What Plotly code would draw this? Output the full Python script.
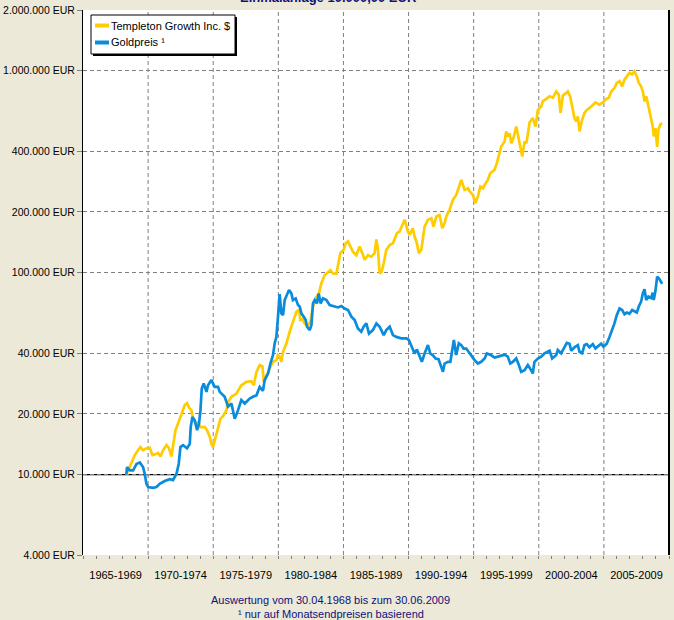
import plotly.graph_objects as go

# ---------------- data ----------------
TEMPLETON_YEARS = [
    1968.33, 1968.72, 1968.98, 1969.23, 1969.41, 1969.61, 1969.87, 1970.13, 1970.33, 1970.51,
    1970.76, 1970.95, 1971.15, 1971.41, 1971.61, 1971.79, 1971.91, 1972.10, 1972.30, 1972.48,
    1972.68, 1972.81, 1972.99, 1973.14, 1973.33, 1973.45, 1973.66, 1973.83, 1974.02, 1974.35,
    1974.52, 1974.73, 1974.86, 1974.98, 1975.19, 1975.37, 1975.55, 1975.75, 1976.01, 1976.14,
    1976.40, 1976.78, 1977.16, 1977.55, 1977.93, 1978.11, 1978.32, 1978.57, 1978.78, 1978.88,
    1979.08, 1979.28, 1979.47, 1979.59, 1979.85, 1979.97, 1980.10, 1980.23, 1980.36, 1980.62,
    1980.87, 1981.12, 1981.39, 1981.59, 1981.69, 1981.85, 1982.02, 1982.28, 1982.46, 1982.66,
    1982.92, 1983.12, 1983.30, 1983.56, 1983.81, 1984.00, 1984.19, 1984.46, 1984.61, 1984.76,
    1985.02, 1985.17, 1985.35, 1985.53, 1985.73, 1985.99, 1986.24, 1986.45, 1986.63, 1986.88,
    1987.14, 1987.39, 1987.53, 1987.65, 1987.78, 1987.93, 1988.09, 1988.29, 1988.55, 1988.80,
    1989.01, 1989.11, 1989.31, 1989.57, 1989.70, 1989.95, 1990.08, 1990.33, 1990.46, 1990.64,
    1990.79, 1990.98, 1991.10, 1991.23, 1991.49, 1991.75, 1991.92, 1992.13, 1992.38, 1992.59,
    1992.77, 1992.90, 1993.15, 1993.40, 1993.66, 1993.92, 1994.05, 1994.30, 1994.56, 1994.69,
    1994.94, 1995.12, 1995.32, 1995.51, 1995.71, 1995.91, 1996.09, 1996.27, 1996.60, 1996.78,
    1996.99, 1997.12, 1997.37, 1997.50, 1997.62, 1997.76, 1997.89, 1998.06, 1998.27, 1998.39,
    1998.58, 1998.73, 1998.91, 1999.04, 1999.16, 1999.29, 1999.54, 1999.75, 1999.93, 2000.19,
    2000.31, 2000.57, 2000.83, 2001.08, 2001.34, 2001.54, 2001.67, 2001.85, 2002.05, 2002.23,
    2002.41, 2002.57, 2002.74, 2002.87, 2003.00, 2003.13, 2003.33, 2003.51, 2003.69, 2003.89,
    2004.15, 2004.35, 2004.66, 2004.92, 2005.18, 2005.38, 2005.56, 2005.81, 2005.99, 2006.20,
    2006.40, 2006.58, 2006.76, 2006.96, 2007.17, 2007.35, 2007.53, 2007.68, 2007.86, 2007.99,
    2008.12, 2008.25, 2008.37, 2008.50, 2008.63, 2008.75, 2008.83, 2008.96, 2009.09, 2009.19,
    2009.32, 2009.47,
]
TEMPLETON_EUR = [
    10000, 11500, 12500, 13200, 13700, 13200, 13500, 13600, 12500, 12600,
    12800, 12300, 13200, 14000, 13500, 12300, 13700, 16600, 17900, 19300,
    20800, 22100, 22600, 21500, 20800, 18900, 17900, 18200, 17200, 17200,
    16600, 15400, 14200, 13700, 15400, 17200, 18900, 19500, 20800, 22900,
    24300, 25200, 27700, 28800, 29000, 27700, 32300, 34900, 34400, 28800,
    30500, 32900, 34900, 36200, 36900, 39100, 38400, 36200, 40600, 44700,
    51000, 57100, 64200, 65400, 58300, 59000, 56100, 54900, 57100, 68000,
    76000, 79000, 88600, 97400, 101000, 103000, 99100, 99000, 111000, 125000,
    130000, 140000, 143000, 135000, 127000, 122000, 135000, 125000, 116000, 122000,
    120000, 125000, 146000, 130000, 99000, 101000, 111000, 130000, 137000, 140000,
    151000, 157000, 160000, 176000, 183000, 160000, 154000, 166000, 151000, 140000,
    125000, 130000, 151000, 169000, 183000, 186000, 169000, 190000, 193000, 166000,
    176000, 190000, 205000, 229000, 243000, 277000, 288000, 257000, 262000, 253000,
    243000, 221000, 238000, 267000, 262000, 277000, 288000, 311000, 323000, 349000,
    391000, 422000, 447000, 501000, 473000, 490000, 438000, 466000, 530000, 480000,
    422000, 376000, 447000, 438000, 483000, 555000, 583000, 530000, 640000, 666000,
    705000, 725000, 747000, 735000, 790000, 760000, 618000, 752000, 775000, 790000,
    747000, 653000, 583000, 562000, 594000, 501000, 572000, 618000, 640000, 653000,
    679000, 697000, 679000, 697000, 725000, 735000, 790000, 821000, 871000, 888000,
    838000, 903000, 938000, 975000, 960000, 993000, 938000, 871000, 838000, 790000,
    705000, 747000, 692000, 629000, 594000, 530000, 473000, 520000, 420000, 511000,
    540000, 551000,
]

GOLD_YEARS = [
    1968.33, 1968.38, 1968.59, 1968.85, 1969.11, 1969.36, 1969.61, 1969.74, 1969.87, 1970.00,
    1970.38, 1970.64, 1970.89, 1971.28, 1971.66, 1971.91, 1972.18, 1972.35, 1972.48, 1972.68,
    1972.99, 1973.20, 1973.27, 1973.40, 1973.58, 1973.76, 1973.91, 1974.02, 1974.12, 1974.27,
    1974.48, 1974.60, 1974.86, 1975.11, 1975.37, 1975.50, 1975.88, 1976.14, 1976.40, 1976.65,
    1976.90, 1977.16, 1977.42, 1977.80, 1978.05, 1978.32, 1978.57, 1978.82, 1978.95, 1979.21,
    1979.39, 1979.59, 1979.72, 1979.85, 1979.97, 1980.05, 1980.10, 1980.23, 1980.36, 1980.49,
    1980.66, 1980.82, 1981.00, 1981.12, 1981.33, 1981.51, 1981.64, 1981.77, 1981.95, 1982.10,
    1982.20, 1982.41, 1982.54, 1982.66, 1982.79, 1982.97, 1983.10, 1983.25, 1983.43, 1983.69,
    1983.94, 1984.32, 1984.58, 1984.84, 1985.09, 1985.35, 1985.61, 1985.86, 1986.11, 1986.37,
    1986.55, 1986.76, 1986.96, 1987.26, 1987.53, 1987.78, 1988.09, 1988.29, 1988.55, 1988.80,
    1989.06, 1989.44, 1989.83, 1990.03, 1990.21, 1990.33, 1990.46, 1990.64, 1990.85, 1991.02,
    1991.23, 1991.49, 1991.67, 1991.87, 1992.08, 1992.30, 1992.51, 1992.64, 1992.77, 1993.02,
    1993.21, 1993.36, 1993.48, 1993.66, 1993.86, 1994.05, 1994.22, 1994.43, 1994.69, 1994.89,
    1995.07, 1995.32, 1995.58, 1995.84, 1996.01, 1996.35, 1996.60, 1996.86, 1997.12, 1997.37,
    1997.62, 1997.81, 1998.01, 1998.27, 1998.47, 1998.65, 1998.91, 1999.16, 1999.34, 1999.54,
    1999.67, 1999.93, 2000.19, 2000.44, 2000.83, 2001.03, 2001.34, 2001.46, 2001.72, 2001.98,
    2002.15, 2002.36, 2002.49, 2002.74, 2003.00, 2003.13, 2003.33, 2003.51, 2003.69, 2003.89,
    2004.15, 2004.35, 2004.53, 2004.79, 2004.97, 2005.22, 2005.43, 2005.64, 2005.81, 2005.99,
    2006.20, 2006.40, 2006.58, 2006.76, 2006.96, 2007.17, 2007.35, 2007.53, 2007.68, 2007.86,
    2007.99, 2008.12, 2008.25, 2008.42, 2008.63, 2008.75, 2008.83, 2008.96, 2009.09, 2009.27,
    2009.47,
]
GOLD_EUR = [
    10000, 10900, 10500, 10500, 11300, 11500, 10900, 10100, 9000, 8680,
    8600, 8680, 9000, 9300, 9500, 9400, 10100, 11300, 13700, 14000,
    13500, 14200, 17200, 19300, 18600, 16600, 17900, 20800, 26700, 28300,
    25700, 27700, 29400, 27200, 27200, 25700, 24300, 21700, 22500, 18900,
    20800, 23400, 22500, 23800, 24300, 24700, 27200, 26000, 29400, 31700,
    35500, 39100, 44700, 48100, 60000, 77500, 78400, 62900, 61600, 73200,
    77500, 82100, 79000, 73200, 74600, 69200, 68000, 62900, 60600, 58300,
    54000, 52000, 54900, 70500, 73200, 70500, 79000, 70500, 74600, 73200,
    69200, 68400, 67300, 68400, 66500, 65400, 60600, 58300, 53000, 51000,
    54000, 56100, 50000, 52000, 56100, 54000, 49100, 52000, 54000, 49100,
    48100, 47300, 47300, 46400, 43800, 41400, 39800, 41700, 38400, 36200,
    39800, 43800, 39800, 39000, 37600, 37300, 34200, 32300, 35500, 36200,
    36200, 40600, 46400, 39100, 44700, 43800, 42100, 42100, 39800, 38400,
    36900, 35500, 36200, 37600, 39800, 39000, 38000, 38400, 39000, 39300,
    38400, 35500, 36200, 37600, 34900, 32300, 32900, 34900, 33500, 31700,
    36200, 37600, 38400, 39900, 41100, 37600, 39100, 41400, 39900, 43000,
    44900, 44500, 41100, 42700, 43800, 40600, 39900, 43800, 44300, 42700,
    44300, 42200, 43300, 44500, 43000, 44500, 48100, 52000, 56100, 61600,
    66500, 65400, 62300, 63500, 62600, 65400, 64500, 63500, 68000, 71900,
    79000, 82900, 73200, 76300, 75000, 79700, 73200, 81300, 95500, 93000,
    88100,
]

SERIES_NAMES = ["Templeton Growth Inc. $", "Goldpreis \u00b9"]
SERIES_COLORS = ["#FFCC00", "#0A8CDC"]

Y_TICKS = [4000, 10000, 20000, 40000, 100000, 200000, 400000, 1000000, 2000000]
Y_LABELS = ["4.000 EUR", "10.000 EUR", "20.000 EUR", "40.000 EUR", "100.000 EUR",
            "200.000 EUR", "400.000 EUR", "1.000.000 EUR", "2.000.000 EUR"]
PERIOD_STARTS = [1965, 1970, 1975, 1980, 1985, 1990, 1995, 2000, 2005]
PERIOD_LABELS = ["1965-1969", "1970-1974", "1975-1979", "1980-1984", "1985-1989",
                 "1990-1994", "1995-1999", "2000-2004", "2005-2009"]
X_RANGE = [1965, 2010]
BASE_LINE = 10000

TITLE = "Einmalanlage 10.000,00 EUR"
FOOT1 = "Auswertung vom 30.04.1968 bis zum 30.06.2009"
FOOT2 = "\u00b9 nur auf Monatsendpreisen basierend"

# ---------------- figure ----------------
FONT = "Liberation Sans, Arial, sans-serif"
NAVY = "#10107A"
GRID = "#808080"
DASH = "4px,3px"

W, H = 674, 620
ML, MR, MT, MB = 83, 5, 10, 65
PW, PH = W - ML - MR, H - MT - MB


def px_x(p):
    return (p - ML) / PW


def px_y(p):
    return 1 - (p - MT) / PH


fig = go.Figure()
for xs, ys, name, col in [(TEMPLETON_YEARS, TEMPLETON_EUR, SERIES_NAMES[0], SERIES_COLORS[0]),
                          (GOLD_YEARS, GOLD_EUR, SERIES_NAMES[1], SERIES_COLORS[1])]:
    fig.add_trace(go.Scatter(x=xs, y=ys, mode="lines", name=name,
                             line=dict(color=col, width=2.7), showlegend=False))

shapes = []
# vertical dashed grid at period boundaries
for yr in PERIOD_STARTS[1:]:
    shapes.append(dict(type="line", xref="x", yref="paper", x0=yr, x1=yr, y0=0, y1=1,
                       line=dict(color=GRID, width=1, dash=DASH), layer="between"))
# base line at 10.000 EUR
shapes.append(dict(type="line", xref="paper", yref="y", x0=0, x1=1, y0=BASE_LINE, y1=BASE_LINE,
                   line=dict(color="black", width=1.3), layer="between"))
# right border
shapes.append(dict(type="line", xref="paper", yref="paper", x0=1, x1=1, y0=0, y1=1,
                   line=dict(color="black", width=2)))
# legend box with shadow
lx0, lx1, ly0, ly1 = 91, 235, 15, 54
shapes.append(dict(type="rect", xref="paper", yref="paper",
                   x0=px_x(lx0 + 2), x1=px_x(lx1 + 2), y0=px_y(ly1 + 2), y1=px_y(ly0 + 2),
                   fillcolor="black", line=dict(width=0)))
shapes.append(dict(type="rect", xref="paper", yref="paper",
                   x0=px_x(lx0), x1=px_x(lx1), y0=px_y(ly1), y1=px_y(ly0),
                   fillcolor="white", line=dict(color="black", width=1)))
annotations = []
for i, (name, col) in enumerate(zip(SERIES_NAMES, SERIES_COLORS)):
    yy = 25.5 + i * 17
    shapes.append(dict(type="line", xref="paper", yref="paper",
                       x0=px_x(95), x1=px_x(109), y0=px_y(yy), y1=px_y(yy),
                       line=dict(color=col, width=4)))
    annotations.append(dict(text=name, xref="paper", yref="paper", x=px_x(109), y=px_y(yy),
                            xanchor="left", yanchor="middle", showarrow=False,
                            font=dict(family=FONT, size=11, color="black")))

annotations.append(dict(text="<b>" + TITLE + "</b>", xref="paper", yref="paper",
                        x=px_x(328), y=1, xanchor="center", yanchor="bottom", yshift=3,
                        showarrow=False, font=dict(family=FONT, size=13, color=NAVY)))
annotations.append(dict(text=FOOT1, xref="paper", yref="paper", x=px_x(330), y=px_y(600),
                        xanchor="center", yanchor="middle", showarrow=False,
                        font=dict(family=FONT, size=11, color=NAVY)))
annotations.append(dict(text=FOOT2, xref="paper", yref="paper", x=px_x(331), y=px_y(614),
                        xanchor="center", yanchor="middle", showarrow=False,
                        font=dict(family=FONT, size=11, color=NAVY)))

fig.update_layout(
    width=W, height=H,
    margin=dict(l=ML, r=MR, t=MT, b=MB, pad=0),
    paper_bgcolor="#ECE9D8", plot_bgcolor="white",
    template="none",
    font=dict(family=FONT, size=11, color="black"),
    shapes=shapes, annotations=annotations,
    xaxis=dict(range=X_RANGE, showgrid=False, zeroline=False, showline=False,
               tickmode="array", tickvals=[s + 2.5 for s in PERIOD_STARTS], ticktext=PERIOD_LABELS,
               ticks="", ticklabelstandoff=12,
               tickfont=dict(family=FONT, size=11, color="black"),
               minor=dict(tickmode="linear", tick0=1965, dtick=1, ticks="outside", ticklen=3,
                          tickcolor=GRID, showgrid=False)),
    yaxis=dict(type="log", range=[3.60206, 6.30103], tickmode="array", tickvals=Y_TICKS,
               ticktext=Y_LABELS, showgrid=True, gridcolor=GRID, griddash=DASH, gridwidth=1,
               zeroline=False, showline=True, linecolor="black", linewidth=1,
               ticks="outside", ticklen=5, tickcolor=GRID,
               tickfont=dict(family=FONT, size=10.5, color="black")),
    hovermode=False,
)

fig.write_html("out.html", config={"displayModeBar": False, "staticPlot": True},
               post_script="document.body.style.margin='0px';document.body.style.overflow='hidden';")
